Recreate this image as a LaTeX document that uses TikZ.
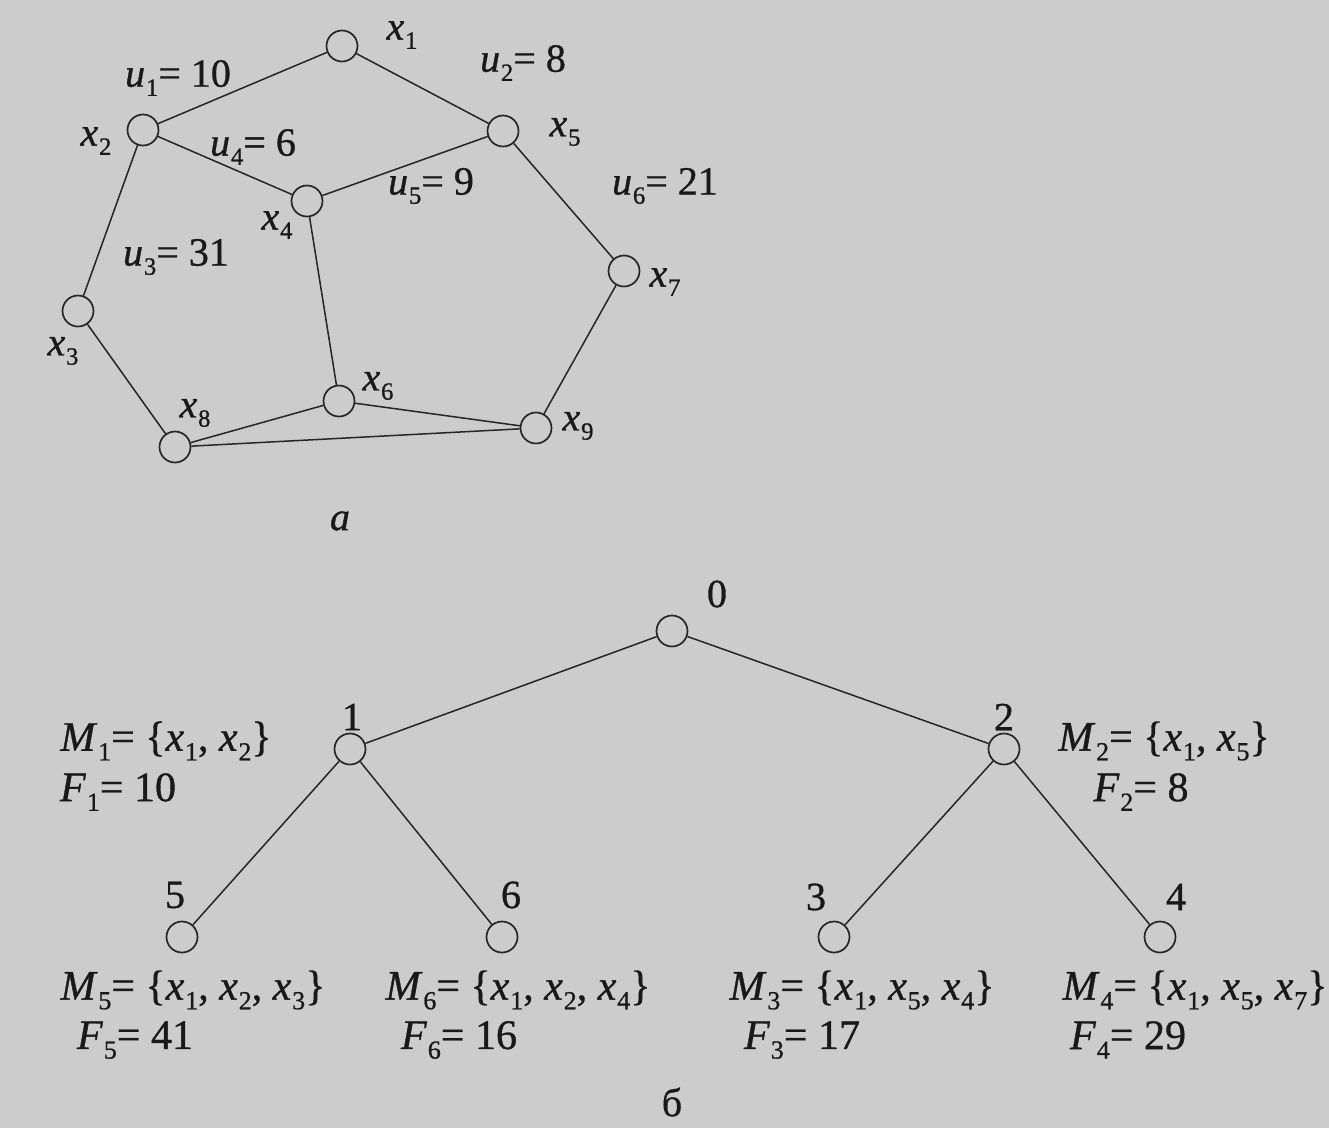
\documentclass[tikz,border=0pt]{standalone}
\usepackage{fontspec}
\setmainfont[FakeBold=0.8]{Liberation Serif}
\newcommand\sbs[1]{\kern0.02em\raisebox{-0.5ex}{\scalebox{0.62}{#1}}}
\newcommand\vx[2]{\textit{#1}\sbs{#2}}
\begin{document}
\begin{tikzpicture}[x=1pt,y=-1pt,
  vtx/.style={circle,draw=black!85,line width=1.7pt,minimum size=31pt,inner sep=0pt},
  edge/.style={draw=black!85,line width=1.5pt},
  glab/.style={font=\fontsize{40}{44}\selectfont,text=black!90,inner sep=0pt},
  tlab/.style={font=\fontsize{42}{46}\selectfont,text=black!90,inner sep=0pt},
  num/.style={font=\fontsize{40}{44}\selectfont,text=black!90,inner sep=0pt}]
\fill[black!20] (0,0) rectangle (1329,1128);
\useasboundingbox (0,0) rectangle (1329,1128);
% graph a
\node[vtx] (x1) at (342,46) {};
\node[vtx] (x2) at (143,130) {};
\node[vtx] (x5) at (503,131) {};
\node[vtx] (x4) at (307,201) {};
\node[vtx] (x7) at (624,271) {};
\node[vtx] (x3) at (78,311) {};
\node[vtx] (x6) at (339,401) {};
\node[vtx] (x8) at (175,447) {};
\node[vtx] (x9) at (536,428) {};
\foreach \a/\b in {x1/x2,x1/x5,x2/x4,x4/x5,x2/x3,x3/x8,x4/x6,x5/x7,x7/x9,x6/x8,x6/x9,x8/x9}
  \draw[edge] (\a) -- (\b);
\node[glab] (lx1) at (402,35) {\vx{x}{1}};
\node[glab] (lx2) at (96,141) {\vx{x}{2}};
\node[glab] (lx5) at (565,132) {\vx{x}{5}};
\node[glab] (lx4) at (277,225) {\vx{x}{4}};
\node[glab] (lx7) at (665,282) {\vx{x}{7}};
\node[glab] (lx3) at (63,351) {\vx{x}{3}};
\node[glab] (lx6) at (378,386) {\vx{x}{6}};
\node[glab] (lx8) at (195,413) {\vx{x}{8}};
\node[glab] (lx9) at (578,426) {\vx{x}{9}};
\node[glab] (u1) at (178,78) {\vx{u}{1}= 10};
\node[glab] (u2) at (523,63) {\vx{u}{2}= 8};
\node[glab] (u4) at (253,147) {\vx{u}{4}= 6};
\node[glab] (u5) at (431,186) {\vx{u}{5}= 9};
\node[glab] (u6) at (665,186) {\vx{u}{6}= 21};
\node[glab] (u3) at (176,257) {\vx{u}{3}= 31};
\node[glab] (la) at (340,521) {\textit{a}};
% tree b
\node[vtx] (t0) at (672,631) {};
\node[vtx] (t1) at (350,749) {};
\node[vtx] (t2) at (1004,749) {};
\node[vtx] (t5) at (182,937) {};
\node[vtx] (t6) at (502,937) {};
\node[vtx] (t3) at (834,937) {};
\node[vtx] (t4) at (1160,937) {};
\foreach \a/\b in {t0/t1,t0/t2,t1/t5,t1/t6,t2/t3,t2/t4}
  \draw[edge] (\a) -- (\b);
\node[num] (n0) at (717,594) {0};
\node[num] (n1) at (352,717) {1};
\node[num] (n2) at (1004,717) {2};
\node[num] (n5) at (175,895) {5};
\node[num] (n6) at (511,895) {6};
\node[num] (n3) at (816,897) {3};
\node[num] (n4) at (1176,897) {4};
\node[tlab] (m1) at (166,741) {\vx{M}{1}= \{\vx{x}{1}, \vx{x}{2}\}};
\node[tlab] (f1) at (118,792) {\vx{F}{1}= 10};
\node[tlab] (m2) at (1164,741) {\vx{M}{2}= \{\vx{x}{1}, \vx{x}{5}\}};
\node[tlab] (f2) at (1141,792) {\vx{F}{2}= 8};
\node[tlab] (m5) at (193,990) {\vx{M}{5}= \{\vx{x}{1}, \vx{x}{2}, \vx{x}{3}\}};
\node[tlab] (f5) at (135,1040) {\vx{F}{5}= 41};
\node[tlab] (m6) at (518,990) {\vx{M}{6}= \{\vx{x}{1}, \vx{x}{2}, \vx{x}{4}\}};
\node[tlab] (f6) at (459,1040) {\vx{F}{6}= 16};
\node[tlab] (m3) at (862,990) {\vx{M}{3}= \{\vx{x}{1}, \vx{x}{5}, \vx{x}{4}\}};
\node[tlab] (f3) at (802,1040) {\vx{F}{3}= 17};
\node[tlab] (m4) at (1195,990) {\vx{M}{4}= \{\vx{x}{1}, \vx{x}{5}, \vx{x}{7}\}};
\node[tlab] (f4) at (1128,1040) {\vx{F}{4}= 29};
\node[glab] (lb) at (672,1102) {б};
\end{tikzpicture}
\end{document}
